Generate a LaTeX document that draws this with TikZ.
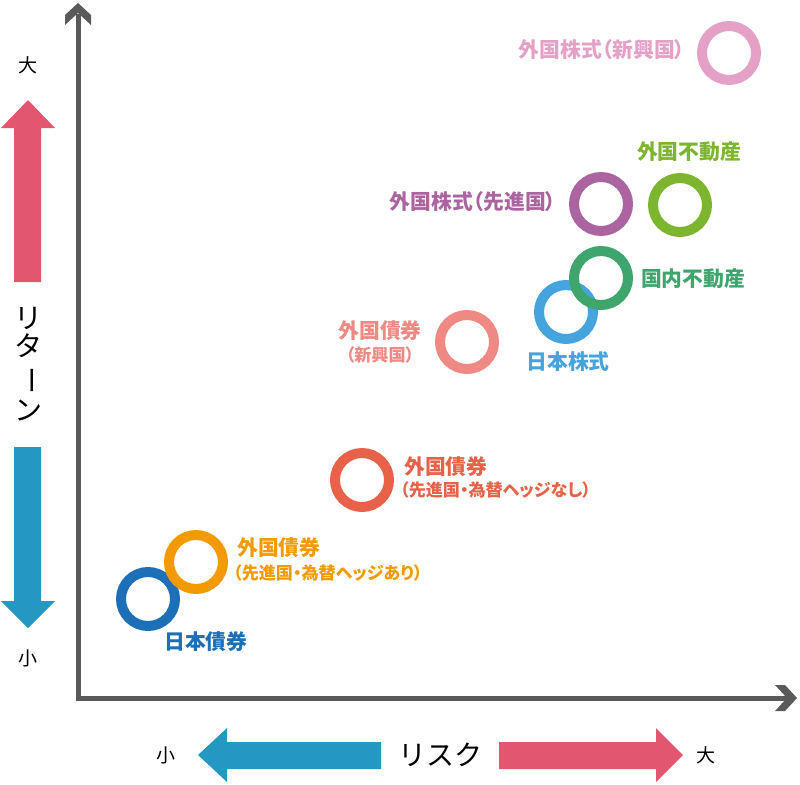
\documentclass[tikz,border=0pt]{standalone}
\usepackage{fontspec}
\setmainfont{Noto Sans CJK JP}[RawFeature=+palt]
\newfontfamily\jpreg{Noto Sans CJK JP}
\definecolor{axisgray}{HTML}{5A5A5A}
\definecolor{arrred}{HTML}{E3566F}
\definecolor{arrblue}{HTML}{2498C3}
\definecolor{cpink}{HTML}{E4A1C5}
\definecolor{cpurple}{HTML}{AB64A0}
\definecolor{clgreen}{HTML}{7DB52F}
\definecolor{cdgreen}{HTML}{3EA66C}
\definecolor{csky}{HTML}{45A4DD}
\definecolor{csalmon}{HTML}{EE8983}
\definecolor{credor}{HTML}{E8624A}
\definecolor{corange}{HTML}{F39A00}
\definecolor{cnavy}{HTML}{1D6FB8}
\tikzset{
  ring/.style={circle,draw=#1,line width=10pt,minimum size=54pt,inner sep=0pt},
  lab/.style={text=#1,font=\bfseries\fontsize{20.8}{24}\selectfont,inner sep=0pt},
  sublab/.style={text=#1,font=\bfseries\fontsize{17.1}{20}\selectfont,inner sep=0pt},
  axlab/.style={text=black,font=\jpreg\fontsize{19}{22}\selectfont,inner sep=0pt},
  biglab/.style={text=black,font=\jpreg\fontsize{28}{32}\selectfont,inner sep=0pt},
}
\begin{document}
\begin{tikzpicture}[x=1pt,y=-1pt]
\useasboundingbox (0,0) rectangle (800,784);
% axes
\coordinate (ytop) at (78,14);
\coordinate (orig) at (78,698);
\coordinate (xend) at (788,698);
\draw[axisgray,line width=5pt,miter limit=10] (ytop) -- (orig) -- (xend);
\fill[axisgray] (65,25) -- (65,15) -- (78,3) -- (91,15) -- (91,25) -- (78,13) -- cycle;
\fill[axisgray] (775,685) -- (785,685) -- (797,698) -- (785,711) -- (775,711) -- (787,698) -- cycle;
% vertical arrows
\fill[arrred] (14,282) -- (14,128) -- (1,128) -- (28,100) -- (55,128) -- (41,128) -- (41,282) -- cycle;
\fill[arrblue] (14,447) -- (41,447) -- (41,601) -- (55,601) -- (28,628) -- (1,601) -- (14,601) -- cycle;
% horizontal arrows
\fill[arrblue] (381,742) -- (227,742) -- (227,728) -- (198,755) -- (227,782) -- (227,769) -- (381,769) -- cycle;
\fill[arrred] (499,742) -- (656,742) -- (656,728) -- (683,755) -- (656,782) -- (656,769) -- (499,769) -- cycle;
% axis labels
\node[axlab] (big1) at (28,65) {大};
\node[axlab] (small1) at (28,658) {小};
\node[biglab] (r1) at (28,318) {リ};
\node[biglab] (r2) at (28,346) {タ};
\node[biglab,rotate=-90] (r3) at (28,380) {ー};
\node[biglab] (r4) at (28,410) {ン};
\node[axlab] (small2) at (166,755) {小};
\node[biglab] (risk) at (440,755) {リスク};
\node[axlab] (big2) at (706,755) {大};
% rings
\node[ring=cnavy] (c1) at (148,599) {};
\node[ring=corange] (c2) at (196,562) {};
\node[ring=credor] (c3) at (362,480) {};
\node[ring=csalmon] (c4) at (467,342) {};
\node[ring=csky] (c5) at (566,312) {};
\node[ring=cdgreen] (c6) at (601,278) {};
\node[ring=cpurple] (c7) at (601,204) {};
\node[ring=clgreen] (c8) at (680,205) {};
\node[ring=cpink] (c9) at (729,53) {};
% labels
\node[lab=cpink] (l9) at (602,50) {外国株式（新興国）};
\node[lab=clgreen] (l8) at (689,152) {外国不動産};
\node[lab=cpurple] (l7) at (473,202) {外国株式（先進国）};
\node[lab=cdgreen] (l6) at (693,279) {国内不動産};
\node[lab=csky] (l5) at (568,362) {日本株式};
\node[lab=csalmon] (l4) at (380,331) {外国債券};
\node[sublab=csalmon] (l4b) at (380,355) {（新興国）};
\node[lab=credor,anchor=west] (l3) at (404,467) {外国債券};
\node[sublab=credor,anchor=west] (l3b) at (400,490) {（先進国・為替ヘッジなし）};
\node[lab=corange,anchor=west] (l2) at (237,548) {外国債券};
\node[sublab=corange,anchor=west] (l2b) at (233,573) {（先進国・為替ヘッジあり）};
\node[lab=cnavy,anchor=west] (l1) at (164,642) {日本債券};
\end{tikzpicture}
\end{document}
